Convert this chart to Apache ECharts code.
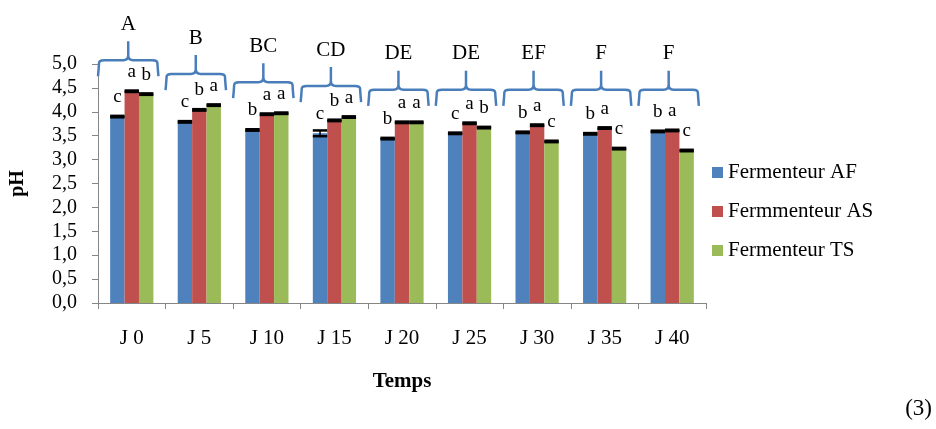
<!DOCTYPE html>
<html>
<head>
<meta charset="utf-8">
<script src="https://cdn.jsdelivr.net/npm/echarts@6/dist/echarts.min.js"></script>
<style>
  html, body { margin: 0; padding: 0; background: #fff; }
  #chart { width: 936px; height: 429px; }
</style>
</head>
<body>
<div id="chart"></div>
<script>
// Sampling days
const categories = ['J 0', 'J 5', 'J 10', 'J 15', 'J 20', 'J 25', 'J 30', 'J 35', 'J 40'];

// Mean pH per fermenter
const afValues = [3.90, 3.79, 3.62, 3.55, 3.44, 3.55, 3.57, 3.54, 3.59];
const asValues = [4.43, 4.04, 3.95, 3.82, 3.78, 3.76, 3.72, 3.66, 3.61];
const tsValues = [4.37, 4.14, 3.97, 3.89, 3.78, 3.67, 3.38, 3.23, 3.19];

// Standard deviations
const afErrors = [0.015, 0.015, 0.015, 0.06, 0.015, 0.015, 0.015, 0.015, 0.015];
const asErrors = [0.015, 0.015, 0.015, 0.015, 0.015, 0.015, 0.015, 0.015, 0.015];
const tsErrors = [0.015, 0.015, 0.015, 0.015, 0.015, 0.015, 0.015, 0.015, 0.015];

// Significance letters (between fermenters, per day)
const afLetters = ['c', 'c', 'b', 'c', 'b', 'c', 'b', 'b', 'b'];
const asLetters = ['a', 'b', 'a', 'b', 'a', 'a', 'a', 'a', 'a'];
const tsLetters = ['b', 'a', 'a', 'a', 'a', 'b', 'c', 'c', 'c'];

// Significance letters between days
const dayLetters = ['A', 'B', 'BC', 'CD', 'DE', 'DE', 'EF', 'F', 'F'];

// Y axis ticks
const yMin = 0, yMax = 5, yStep = 0.5;

const seriesNames = ['Fermenteur AF', 'Fermmenteur AS', 'Fermenteur TS'];
const colors = ['#4F81BD', '#C0504D', '#9BBB59'];
const SERIF = '"Liberation Serif", "Times New Roman", serif';
const GAP = 0.36;          // share of a category left empty around the bars
const BRACE_FLOOR = 4.46;  // braces never sit lower than this level

const valueSets = [afValues, asValues, tsValues];
const errorSets = [afErrors, asErrors, tsErrors];
const letterSets = [afLetters, asLetters, tsLetters];

const chart = echarts.init(document.getElementById('chart'), null, { renderer: 'canvas' });

function barSeries(k) {
  return {
    name: seriesNames[k],
    type: 'bar',
    barGap: '0%',
    barCategoryGap: (GAP * 100) + '%',
    itemStyle: { color: colors[k] },
    data: valueSets[k].map((v, i) => ({
      value: v,
      label: { formatter: letterSets[k][i] }
    })),
    label: {
      show: true,
      position: 'top',
      distance: 10,
      color: '#000',
      fontFamily: SERIF,
      fontSize: 19
    },
    z: 2
  };
}

function errorSeries(k) {
  return {
    name: seriesNames[k] + ' sd',
    type: 'custom',
    z: 5,
    silent: true,
    encode: { x: 0, y: 1 },
    data: valueSets[k].map((v, i) => [i, v, errorSets[k][i]]),
    renderItem: function (params, api) {
      const i = api.value(0), v = api.value(1), e = api.value(2);
      const band = api.size([1, 0])[0];
      const bw = band * (1 - GAP) / 3;
      const cx = api.coord([i, v])[0] + (k - 1) * bw;
      const yHi = api.coord([i, v + e])[1];
      const yLo = api.coord([i, v - e])[1];
      const half = bw / 2;
      const st = { stroke: '#000', lineWidth: 2.5 };
      return {
        type: 'group',
        children: [
          { type: 'line', shape: { x1: cx, y1: yHi, x2: cx, y2: yLo }, style: { stroke: '#000', lineWidth: 1.5 } },
          { type: 'line', shape: { x1: cx - half, y1: yHi, x2: cx + half, y2: yHi }, style: st },
          { type: 'line', shape: { x1: cx - half, y1: yLo, x2: cx + half, y2: yLo }, style: st }
        ]
      };
    }
  };
}

const braceSeries = {
  name: 'braces',
  type: 'custom',
  z: 6,
  silent: true,
  encode: { x: 0, y: 1 },
  data: categories.map((c, i) => [i, Math.max(afValues[i], asValues[i], tsValues[i])]),
  renderItem: function (params, api) {
    const i = api.value(0), top = api.value(1);
    const idx = params.dataIndex;
    const band = api.size([1, 0])[0];
    const cx = api.coord([i, top])[0];
    const y = Math.min(api.coord([i, top])[1] - 31, api.coord([i, BRACE_FLOOR])[1]);
    const x0 = cx - band / 2 + 1;
    const x1 = cx - band / 2 + band * 0.88;
    const xm = (x0 + x1) / 2;
    const d = 16, p = 19, r = 5;
    const path =
      'M' + (x0 - 1) + ',' + (y + d) +
      ' Q' + x0 + ',' + (y + 5) + ' ' + x0 + ',' + (y + 3) +
      ' Q' + x0 + ',' + y + ' ' + (x0 + r) + ',' + y +
      ' L' + (xm - r) + ',' + y +
      ' Q' + xm + ',' + y + ' ' + xm + ',' + (y - r) +
      ' L' + xm + ',' + (y - p) +
      ' M' + xm + ',' + (y - r) +
      ' Q' + xm + ',' + y + ' ' + (xm + r) + ',' + y +
      ' L' + (x1 - r) + ',' + y +
      ' Q' + x1 + ',' + y + ' ' + x1 + ',' + (y + 3) +
      ' Q' + x1 + ',' + (y + 5) + ' ' + (x1 + 1) + ',' + (y + d);
    return {
      type: 'group',
      children: [
        {
          type: 'path',
          shape: { pathData: path },
          style: { fill: 'none', stroke: '#4A7EBB', lineWidth: 2.5 }
        },
        {
          type: 'text',
          x: xm,
          y: y - p - 17,
          style: {
            text: dayLetters[idx],
            fill: '#000',
            font: '21px ' + SERIF,
            align: 'center',
            verticalAlign: 'middle'
          }
        }
      ]
    };
  }
};

chart.setOption({
  animation: false,
  backgroundColor: '#fff',
  textStyle: { fontFamily: SERIF },
  grid: { left: 98, right: 230, top: 64, bottom: 126, containLabel: false },
  legend: {
    data: seriesNames,
    orient: 'vertical',
    left: 707,
    top: 157,
    icon: 'rect',
    itemWidth: 11,
    itemHeight: 11,
    itemGap: 18,
    textStyle: { fontFamily: SERIF, fontSize: 21, color: '#000' }
  },
  xAxis: {
    type: 'category',
    data: categories,
    name: 'Temps',
    nameLocation: 'middle',
    nameGap: 68,
    nameTextStyle: { fontFamily: SERIF, fontSize: 21, fontWeight: 'bold', color: '#000' },
    axisLine: { lineStyle: { color: '#868686', width: 1 } },
    axisTick: { show: true, length: 6, lineStyle: { color: '#868686' } },
    axisLabel: { margin: 25, fontFamily: SERIF, fontSize: 21, color: '#000' }
  },
  yAxis: {
    type: 'value',
    min: yMin,
    max: yMax,
    interval: yStep,
    name: 'pH',
    nameLocation: 'middle',
    nameGap: 70,
    nameRotate: 90,
    nameTextStyle: { fontFamily: SERIF, fontSize: 20, fontWeight: 'bold', color: '#000' },
    splitLine: { show: false },
    axisLine: { show: true, lineStyle: { color: '#868686', width: 1 } },
    axisTick: { show: true, length: 6, lineStyle: { color: '#868686' } },
    axisLabel: {
      margin: 21,
      fontFamily: SERIF,
      fontSize: 20,
      color: '#000',
      formatter: v => v.toFixed(1).replace('.', ',')
    }
  },
  graphic: [
    {
      type: 'text',
      right: 4,
      top: 397,
      style: { text: '(3)', fill: '#000', font: '23px ' + SERIF }
    }
  ],
  series: [
    barSeries(0), barSeries(1), barSeries(2),
    errorSeries(0), errorSeries(1), errorSeries(2),
    braceSeries
  ]
});
</script>
</body>
</html>
